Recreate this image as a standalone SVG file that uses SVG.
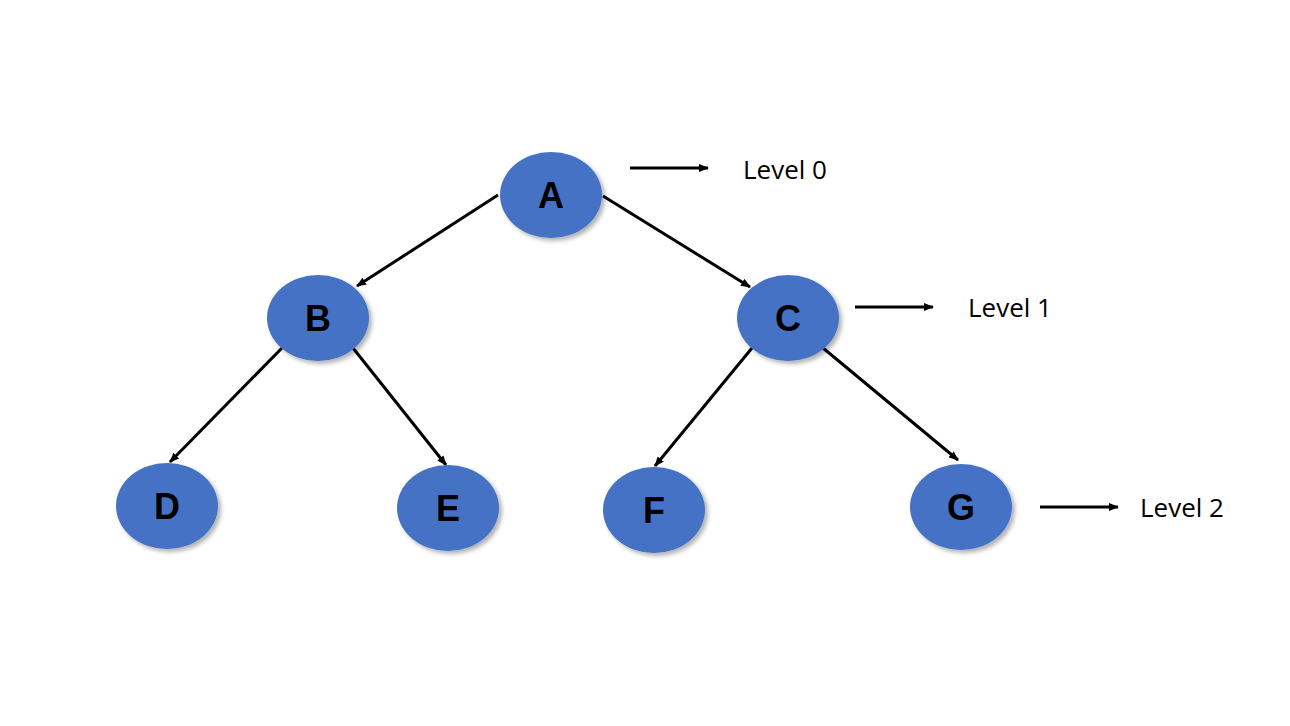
<svg xmlns="http://www.w3.org/2000/svg" width="1290" height="726" viewBox="0 0 1290 726">
<defs>
<marker id="ah" markerWidth="10" markerHeight="8" refX="9" refY="4" orient="auto" markerUnits="userSpaceOnUse"><path d="M0,0 L10,4 L0,8 Z" fill="#000"/></marker>
<filter id="sh" x="-20%" y="-20%" width="150%" height="150%"><feDropShadow dx="3" dy="3" stdDeviation="2" flood-color="#000" flood-opacity="0.3"/></filter>
</defs>
<style>
.n{fill:#4472C4;filter:url(#sh)}
.t{font-family:"Liberation Sans",Arial,sans-serif;font-weight:bold;font-size:36px;fill:#000;text-anchor:middle}
.l{font-family:"Open Sans","Liberation Sans",sans-serif;font-size:26px;fill:#000}
.e{stroke:#000;stroke-width:3;fill:none;marker-end:url(#ah)}
</style>
<rect width="1290" height="726" fill="#fff"/>
<g id="connectors">
<line class="e" x1="498" y1="195" x2="357" y2="286"/>
<line class="e" x1="603" y1="196" x2="750" y2="287"/>
<line class="e" x1="282" y1="348" x2="170" y2="462"/>
<line class="e" x1="353" y1="348" x2="446" y2="465"/>
<line class="e" x1="752" y1="348" x2="655" y2="466"/>
<line class="e" x1="823" y1="348" x2="958" y2="460"/>
<line class="e" x1="630" y1="168" x2="708" y2="168"/>
<line class="e" x1="855" y1="307" x2="933" y2="307"/>
<line class="e" x1="1040" y1="507" x2="1118" y2="507"/>
</g>
<g id="A"><ellipse class="n" cx="551" cy="195" rx="51" ry="43"/><text class="t" x="551" y="208">A</text></g>
<g id="B"><ellipse class="n" cx="318" cy="318" rx="51" ry="43"/><text class="t" x="318" y="331">B</text></g>
<g id="C"><ellipse class="n" cx="788" cy="318" rx="51" ry="43"/><text class="t" x="788" y="331">C</text></g>
<g id="D"><ellipse class="n" cx="167" cy="506" rx="51" ry="43"/><text class="t" x="167" y="519">D</text></g>
<g id="E"><ellipse class="n" cx="448" cy="508" rx="51" ry="43"/><text class="t" x="448" y="521">E</text></g>
<g id="F"><ellipse class="n" cx="654" cy="510" rx="51" ry="43"/><text class="t" x="654" y="523">F</text></g>
<g id="G"><ellipse class="n" cx="961" cy="507" rx="51" ry="43"/><text class="t" x="961" y="520">G</text></g>
<g id="levels">
<text class="l" x="743" y="179">Level 0</text>
<text class="l" x="968" y="317">Level 1</text>
<text class="l" x="1140" y="517">Level 2</text>
</g>
</svg>
